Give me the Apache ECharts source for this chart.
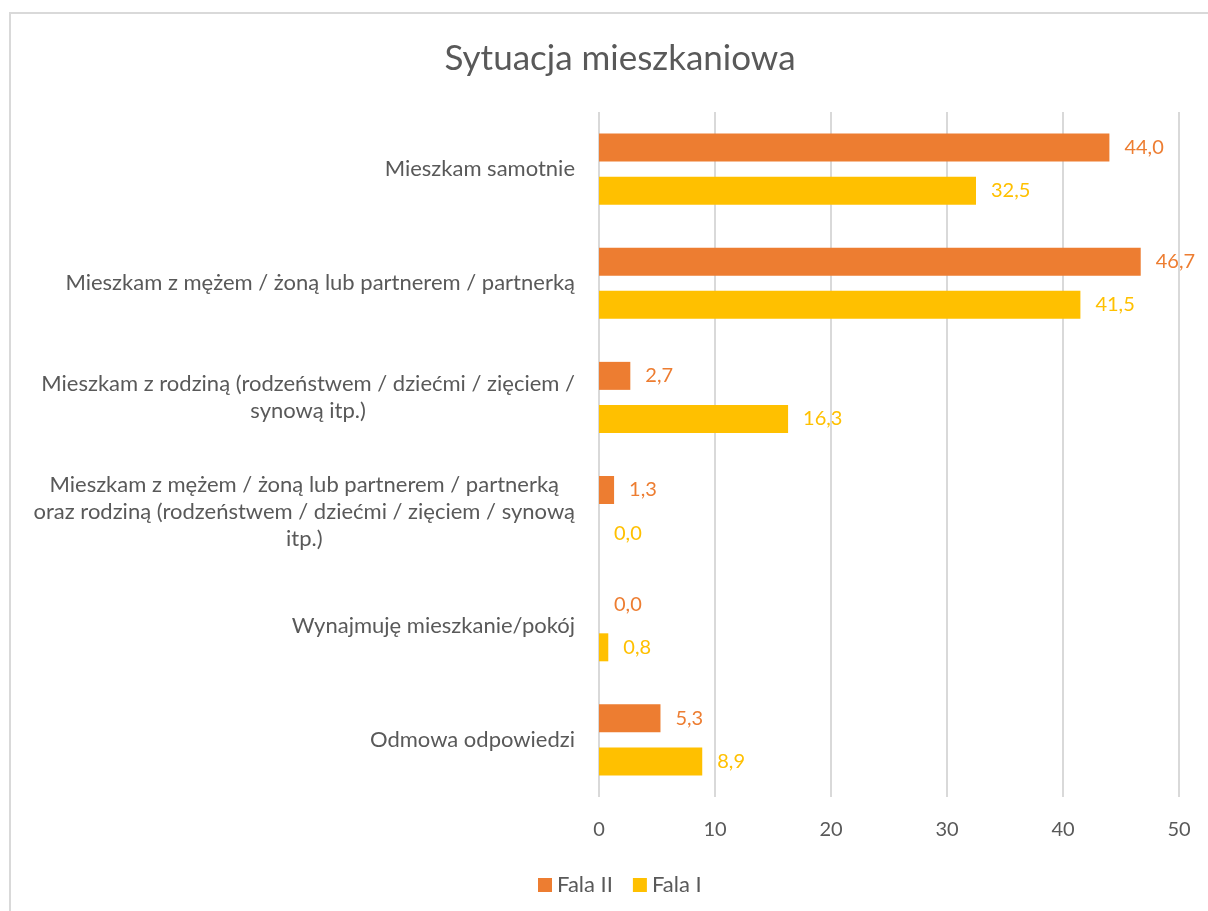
<!DOCTYPE html>
<html>
<head>
<meta charset="utf-8">
<script src="https://cdn.jsdelivr.net/npm/echarts@6/dist/echarts.min.js"></script>
<style>
  html, body { margin: 0; padding: 0; background: #fff; }
  #chart { width: 1208px; height: 911px; }
</style>
</head>
<body>
<div id="chart"></div>
<script>
let chart = echarts.init(document.getElementById('chart'));

// kategorie (z podziałem linii jak w oryginale)
let categories = [
    'Mieszkam samotnie',
    'Mieszkam z mężem / żoną lub partnerem / partnerką',
    'Mieszkam z rodziną (rodzeństwem / dziećmi / zięciem /\nsynową itp.)',
    'Mieszkam z mężem / żoną lub partnerem / partnerką\noraz rodziną (rodzeństwem / dziećmi / zięciem / synową\nitp.)',
    'Wynajmuję mieszkanie/pokój',
    'Odmowa odpowiedzi'
];

let fala2 = [44.0, 46.7, 2.7, 1.3, 0.0, 5.3];
let fala1 = [32.5, 41.5, 16.3, 0.0, 0.8, 8.9];

let series_names = ['Fala II', 'Fala I'];
let colors = ['#ED7D31', '#FFC000'];

let font = 'Lato, "Open Sans", sans-serif';
let grey = '#595959';

function fmt(v) {
    return v.toFixed(1).replace('.', ',');
}

function bar_series(name, data, color) {
    return {
        name: name,
        type: 'bar',
        data: data,
        barWidth: 28,
        barGap: '54%',
        itemStyle: {color: color},
        label: {
            show: true,
            position: 'right',
            distance: 15,
            color: color,
            fontFamily: font,
            fontSize: 20,
            formatter: p => fmt(p.value)
        }
    };
}

let option = {
    animation: false,
    backgroundColor: '#fff',
    graphic: [{
        type: 'rect',
        shape: {x: 10, y: 13, width: 1300, height: 1000},
        style: {fill: 'none', stroke: '#d9d9d9', lineWidth: 2},
        silent: true
    }],
    title: {
        text: 'Sytuacja mieszkaniowa',
        left: 615,
        top: 36,
        textAlign: 'center',
        textStyle: {
            fontFamily: font,
            fontSize: 35,
            fontWeight: 'normal',
            color: grey
        }
    },
    legend: {
        data: series_names,
        left: 533,
        top: 869,
        itemWidth: 14,
        itemHeight: 14,
        itemGap: 20,
        icon: 'rect',
        textStyle: {fontFamily: font, fontSize: 22, color: grey}
    },
    grid: {
        left: 599,
        right: 29,
        top: 112,
        bottom: 114,
        containLabel: false
    },
    xAxis: {
        type: 'value',
        min: 0,
        max: 50,
        interval: 10,
        axisLine: {show: false},
        axisTick: {show: false},
        splitLine: {lineStyle: {color: '#d9d9d9', width: 2}},
        axisLabel: {
            margin: 23,
            fontFamily: font,
            fontSize: 20,
            color: grey
        }
    },
    yAxis: {
        type: 'category',
        data: categories,
        inverse: true,
        axisLine: {show: false},
        axisTick: {show: false},
        axisLabel: {
            margin: 24,
            color: grey,
            fontFamily: font,
            fontSize: 22,
            formatter: v => v.split('\n').map(l => '{c|' + l + '}').join('\n'),
            rich: {
                c: {
                    align: 'center',
                    fontFamily: font,
                    fontSize: 22,
                    lineHeight: 27,
                    color: grey
                }
            }
        }
    },
    series: [
        bar_series(series_names[0], fala2, colors[0]),
        bar_series(series_names[1], fala1, colors[1])
    ]
};

chart.setOption(option);
</script>
</body>
</html>
